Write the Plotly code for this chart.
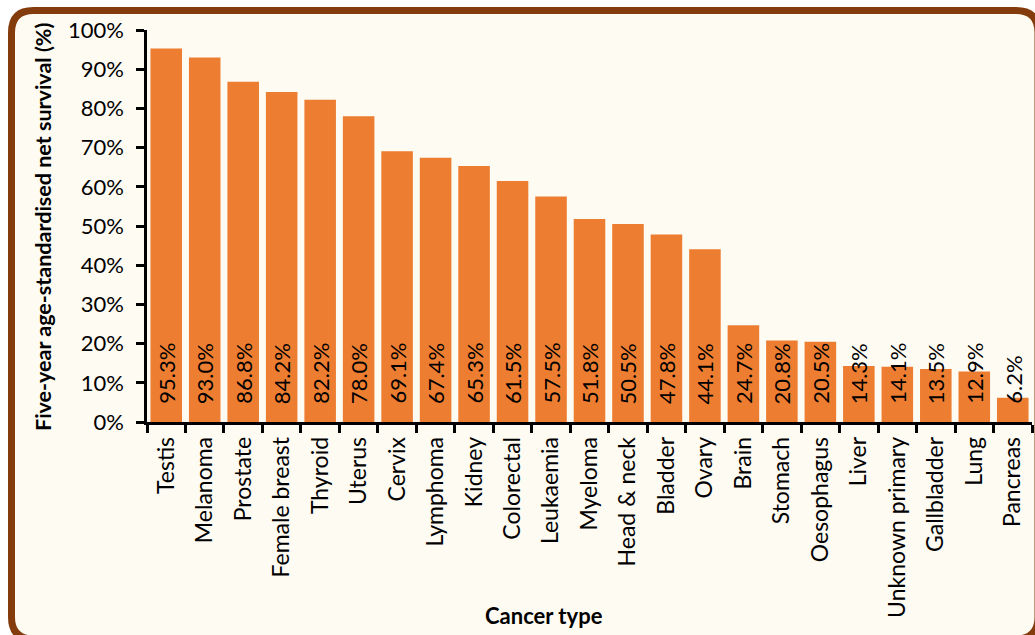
import plotly.graph_objects as go

W, H = 1035, 635
L, R, T, B = 147, 3, 30, 213

cancers = ["Testis", "Melanoma", "Prostate", "Female breast", "Thyroid", "Uterus",
           "Cervix", "Lymphoma", "Kidney", "Colorectal", "Leukaemia", "Myeloma",
           "Head & neck", "Bladder", "Ovary", "Brain", "Stomach", "Oesophagus",
           "Liver", "Unknown primary", "Gallbladder", "Lung", "Pancreas"]
survival = [95.3, 93.0, 86.8, 84.2, 82.2, 78.0, 69.1, 67.4, 65.3, 61.5, 57.5, 51.8,
            50.5, 47.8, 44.1, 24.7, 20.8, 20.5, 14.3, 14.1, 13.5, 12.9, 6.2]
yticks = [0, 10, 20, 30, 40, 50, 60, 70, 80, 90, 100]

FONT = "Lato"
FS = 22
bar_col = "#ED7D31"
brown = "#843C0C"
cream = "#FEFBF3"


def px(x):
    return (x - L) / (W - L - R)


def py(y):
    return (H - B - y) / (H - T - B)


fig = go.Figure()
fig.add_trace(go.Bar(x=cancers, y=survival, marker_color=bar_col,
                     marker_line_width=0, hoverinfo="x+y"))

# value labels at the bar base, rotated
for c, v in zip(cancers, survival):
    fig.add_annotation(x=c, y=0, text=f"{v:.1f}%", textangle=-90, showarrow=False,
                       yanchor="bottom", xanchor="center", yshift=16,
                       font=dict(family=FONT, size=FS, color="black"))

# axis titles
fig.add_annotation(x=px(544), y=py(615), xref="paper", yref="paper", showarrow=False,
                   text="<b>Cancer type</b>", font=dict(family=FONT, size=FS),
                   xanchor="center", yanchor="middle")
fig.add_annotation(x=px(43), y=py(227), xref="paper", yref="paper", showarrow=False,
                   text="<b>Five-year age-standardised net survival (%)</b>", textangle=-90,
                   font=dict(family=FONT, size=21.5), xanchor="center", yanchor="middle")

# rounded border (right and bottom edges fall just outside the window)
x0, x1, y0, y1, rr = 11.5, 1038, 10.5, 639, 22
path = (f"M {px(x0 + rr)},{py(y0)} L {px(x1 - rr)},{py(y0)} Q {px(x1)},{py(y0)} {px(x1)},{py(y0 + rr)} "
        f"L {px(x1)},{py(y1 - rr)} Q {px(x1)},{py(y1)} {px(x1 - rr)},{py(y1)} "
        f"L {px(x0 + rr)},{py(y1)} Q {px(x0)},{py(y1)} {px(x0)},{py(y1 - rr)} "
        f"L {px(x0)},{py(y0 + rr)} Q {px(x0)},{py(y0)} {px(x0 + rr)},{py(y0)} Z")
fig.add_shape(type="path", path=path, xref="paper", yref="paper", layer="below",
              fillcolor=cream, line=dict(color=brown, width=7))

fig.update_layout(
    width=W, height=H,
    margin=dict(l=L, r=R, t=T, b=B, pad=0),
    paper_bgcolor="white", plot_bgcolor="rgba(0,0,0,0)",
    font=dict(family=FONT, size=FS, color="black"),
    bargap=0.18, showlegend=False,
)
fig.update_xaxes(showline=True, linecolor="black", linewidth=2.5, tickangle=-90,
                 ticks="outside", tickson="boundaries", ticklen=8, tickwidth=2.5,
                 tickcolor="black", showgrid=False, ticklabelstandoff=3,
                 tickfont=dict(size=23))
fig.update_yaxes(range=[0, 100], tickvals=yticks, ticktext=[f"{t}%" for t in yticks],
                 showline=True, linecolor="black", linewidth=2.5, ticks="outside",
                 ticklen=8, tickwidth=2.5, tickcolor="black", showgrid=False,
                 zeroline=False, ticklabelstandoff=8)

# no page margin, so the figure fills the window exactly
fig.write_html("out.html", config={"displayModeBar": False},
               post_script="document.body.style.margin='0';"
                           "document.body.style.overflow='hidden';")
